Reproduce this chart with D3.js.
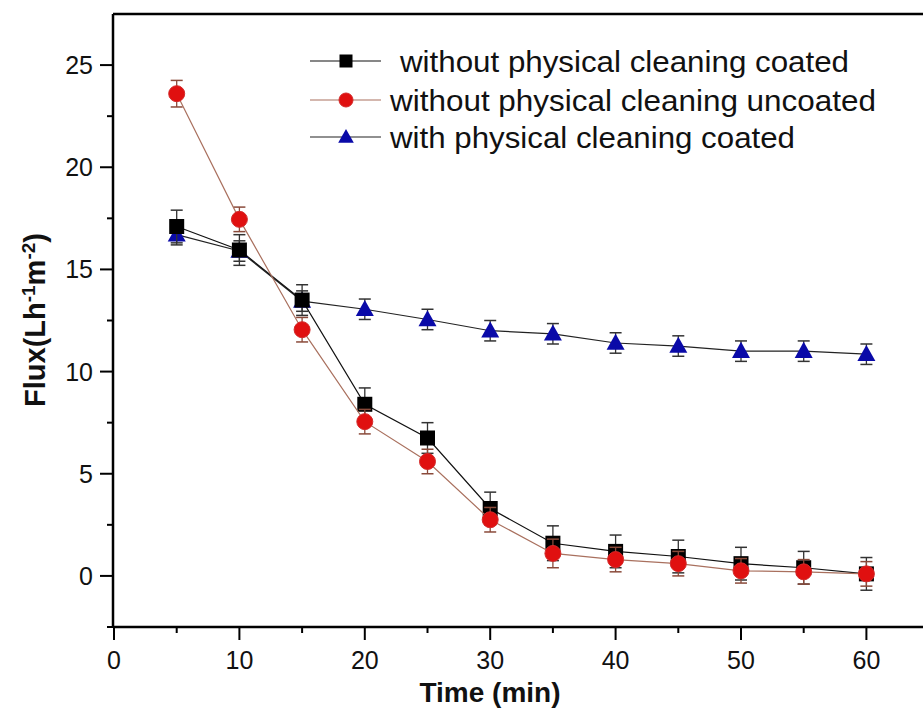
<!DOCTYPE html>
<html>
<head>
<meta charset="utf-8">
<script src="https://cdn.jsdelivr.net/npm/d3@7"></script>
<style>
  html, body { margin: 0; padding: 0; background: #fff; }
  svg { display: block; }
  text { font-family: "Liberation Sans", Arial, sans-serif; }
</style>
</head>
<body>
<svg id="chart" width="923" height="720"></svg>
<script>
// Sampling times (min)
const times = [5, 10, 15, 20, 25, 30, 35, 40, 45, 50, 55, 60];

// Flux values (L h^-1 m^-2) and their error bars
const coatedNoClean    = [17.1, 15.95, 13.5, 8.4, 6.75, 3.3, 1.6, 1.2, 0.95, 0.6, 0.4, 0.1];
const coatedNoCleanErr = [0.8, 0.75, 0.75, 0.8, 0.75, 0.8, 0.85, 0.8, 0.8, 0.8, 0.8, 0.8];
const uncoatedNoClean    = [23.6, 17.45, 12.05, 7.55, 5.6, 2.75, 1.1, 0.8, 0.6, 0.25, 0.2, 0.1];
const uncoatedNoCleanErr = [0.65, 0.6, 0.6, 0.6, 0.6, 0.6, 0.7, 0.6, 0.6, 0.6, 0.6, 0.6];
const coatedClean    = [16.7, 15.9, 13.45, 13.05, 12.55, 12.0, 11.85, 11.4, 11.25, 11.0, 11.0, 10.85];
const coatedCleanErr = [0.5, 0.5, 0.5, 0.5, 0.5, 0.5, 0.5, 0.5, 0.5, 0.5, 0.5, 0.5];

const seriesNames = [
  " without physical cleaning coated",
  "without physical cleaning uncoated",
  "with physical cleaning coated"
];

const xTicks = [0, 10, 20, 30, 40, 50, 60];
const yTicks = [0, 5, 10, 15, 20, 25];

const series = [
  { name: seriesNames[0], values: coatedNoClean, err: coatedNoCleanErr,
    line: "#111", fill: "#000", bar: "#333", shape: "square" },
  { name: seriesNames[1], values: uncoatedNoClean, err: uncoatedNoCleanErr,
    line: "#a9705e", fill: "#e01010", bar: "#8a4a3a", shape: "circle" },
  { name: seriesNames[2], values: coatedClean, err: coatedCleanErr,
    line: "#222", fill: "#0a0aa8", bar: "#333", shape: "triangle" }
];

const svg = d3.select("#chart");
const plotLeft = 113, plotTop = 14, plotBottom = 627;

const x = d3.scaleLinear().domain([0, 65]).range([plotLeft + 1, plotLeft + 1 + 65 * 12.54]);
const y = d3.scaleLinear().domain([-2.5, 27.5]).range([plotBottom, plotTop]);

// Axes
const gx = svg.append("g").attr("transform", `translate(0,${plotBottom})`);
gx.append("line").attr("x1", plotLeft).attr("x2", 923).attr("stroke", "#000").attr("stroke-width", 2.5);
gx.selectAll(".minor").data(d3.range(5, 65, 10)).join("line")
  .attr("x1", d => x(d)).attr("x2", d => x(d)).attr("y1", 0).attr("y2", 6)
  .attr("stroke", "#000").attr("stroke-width", 2);
gx.selectAll(".major").data(xTicks).join("g")
  .attr("transform", d => `translate(${x(d)},0)`)
  .each(function (d) {
    const g = d3.select(this);
    g.append("line").attr("y2", 13).attr("stroke", "#000").attr("stroke-width", 2);
    g.append("text").attr("y", 42).attr("text-anchor", "middle")
      .attr("font-size", 25).attr("fill", "#111").text(d);
  });

const gy = svg.append("g").attr("transform", `translate(${plotLeft},0)`);
gy.append("line").attr("y1", plotTop).attr("y2", plotBottom + 1).attr("stroke", "#000").attr("stroke-width", 2.5);
gy.selectAll(".minor").data(d3.range(-2.5, 27.5, 5)).join("line")
  .attr("y1", d => y(d)).attr("y2", d => y(d)).attr("x1", 0).attr("x2", -6)
  .attr("stroke", "#000").attr("stroke-width", 2);
gy.selectAll(".major").data(yTicks).join("g")
  .attr("transform", d => `translate(0,${y(d)})`)
  .each(function (d) {
    const g = d3.select(this);
    g.append("line").attr("x2", -13).attr("stroke", "#000").attr("stroke-width", 2);
    g.append("text").attr("x", -20).attr("dy", "0.36em").attr("text-anchor", "end")
      .attr("font-size", 25).attr("fill", "#111").text(d);
  });

// Top frame line
svg.append("line").attr("x1", plotLeft).attr("x2", 923).attr("y1", plotTop).attr("y2", plotTop)
  .attr("stroke", "#000").attr("stroke-width", 2.5);

// Axis titles
svg.append("text").attr("x", 490).attr("y", 702).attr("text-anchor", "middle")
  .attr("font-size", 28).attr("font-weight", "bold").attr("fill", "#111").text("Time (min)");
const yt = svg.append("text").attr("transform", "translate(45,320) rotate(-90)")
  .attr("text-anchor", "middle").attr("font-size", 29).attr("font-weight", "bold").attr("fill", "#111");
yt.append("tspan").text("Flux(Lh");
yt.append("tspan").attr("dy", -10).attr("font-size", 19).text("-1");
yt.append("tspan").attr("dy", 10).text("m");
yt.append("tspan").attr("dy", -10).attr("font-size", 19).text("-2");
yt.append("tspan").attr("dy", 10).text(")");

function drawMarker(g, shape, fill, cx, cy, size) {
  if (shape === "square") {
    g.append("rect").attr("x", cx - size / 2).attr("y", cy - size / 2)
      .attr("width", size).attr("height", size).attr("fill", fill);
  } else if (shape === "circle") {
    g.append("circle").attr("cx", cx).attr("cy", cy).attr("r", size / 2 + 0.5)
      .attr("fill", fill).attr("stroke", "#d42a2a").attr("stroke-width", 1);
  } else {
    const h = size * 1.0, w = size * 1.2;
    g.append("path")
      .attr("d", `M${cx},${cy - h * 0.62}L${cx + w / 2},${cy + h * 0.45}L${cx - w / 2},${cy + h * 0.45}Z`)
      .attr("fill", fill);
  }
}

const line = d3.line().x((d, i) => x(times[i])).y(d => y(d));

// Draw order: coated-cleaned, coated, uncoated on top
[series[2], series[0], series[1]].forEach(s => {
  const g = svg.append("g");
  // error bars
  s.values.forEach((v, i) => {
    const cx = x(times[i]);
    const y1 = y(v + s.err[i]), y2 = y(v - s.err[i]);
    g.append("line").attr("x1", cx).attr("x2", cx).attr("y1", y1).attr("y2", y2)
      .attr("stroke", s.bar).attr("stroke-width", 1.3);
    [y1, y2].forEach(yy => g.append("line").attr("x1", cx - 6).attr("x2", cx + 6)
      .attr("y1", yy).attr("y2", yy).attr("stroke", s.bar).attr("stroke-width", 1.5));
  });
  g.append("path").attr("d", line(s.values)).attr("fill", "none")
    .attr("stroke", s.line).attr("stroke-width", 1.2);
  s.values.forEach((v, i) => drawMarker(g, s.shape, s.fill, x(times[i]), y(v), 15));
});

// Legend
const legendRows = [61, 100, 137];
const textX = [400, 390, 390];
const textW = [449, 486, 405];
series.forEach((s, i) => {
  const g = svg.append("g");
  const ly = legendRows[i];
  g.append("line").attr("x1", 310).attr("x2", 381).attr("y1", ly).attr("y2", ly)
    .attr("stroke", s.line).attr("stroke-width", 1.2);
  drawMarker(g, s.shape, s.fill, 346, ly, 13);
  g.append("text").attr("x", textX[i]).attr("y", ly).attr("dy", "0.36em")
    .attr("font-size", 30).attr("fill", "#111")
    .attr("textLength", textW[i]).attr("lengthAdjust", "spacingAndGlyphs")
    .text(s.name.trim());
});
</script>
</body>
</html>
